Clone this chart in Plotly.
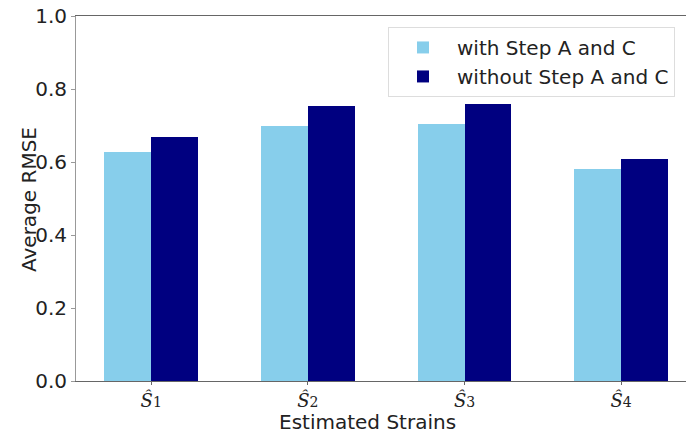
import plotly.graph_objects as go

sub = "<span style='font-size:14px'>{}</span>"
categories = ["<i>Ŝ</i>" + sub.format(i) for i in (1, 2, 3, 4)]
with_ac = [0.627, 0.699, 0.704, 0.581]
without_ac = [0.668, 0.753, 0.759, 0.608]
positions = [0, 1, 2, 3]

fig = go.Figure()
fig.add_trace(go.Bar(x=[p - 0.15 for p in positions], y=with_ac, width=0.3,
                     name="with Step A and C", marker=dict(color="#87CEEB", line=dict(width=0))))
fig.add_trace(go.Bar(x=[p + 0.15 for p in positions], y=without_ac, width=0.3,
                     name="without Step A and C", marker=dict(color="#000080", line=dict(width=0))))

font = dict(family="DejaVu Sans", size=20, color="#222")
fig.update_layout(
    width=686, height=433,
    margin=dict(l=76, r=0, t=16, b=52),
    plot_bgcolor="white", paper_bgcolor="white",
    font=font,
    bargap=0,
    showlegend=True,
    legend=dict(x=(388 - 76) / 610, y=0.97, xanchor="left", yanchor="top",
                bordercolor="#dddddd", borderwidth=1, bgcolor="white",
                font=dict(family="DejaVu Sans", size=20, color="#222"),
                itemwidth=58, tracegroupgap=2),
    xaxis=dict(range=[-0.48, 3.414], tickvals=positions, ticktext=categories,
               automargin=False,
               showline=True, linecolor="#666", linewidth=1, mirror=True,
               ticks="outside", ticklen=3, tickcolor="#666", showgrid=False, zeroline=False,
               tickfont=dict(family="DejaVu Serif", size=18, color="#222")),
    yaxis=dict(range=[0, 1.0], tickvals=[0, 0.2, 0.4, 0.6, 0.8, 1.0],
               ticktext=["0.0", "0.2", "0.4", "0.6", "0.8", "1.0"],
               automargin=False,
               showline=True, linecolor="#999", linewidth=1,
               ticks="outside", ticklen=4, tickcolor="#999", showgrid=False, zeroline=False),
    annotations=[
        dict(text="Estimated Strains", xref="paper", yref="paper", x=(367 - 76) / 610, y=(381 - 422) / 365,
             xanchor="center", yanchor="middle", showarrow=False, font=font),
        dict(text="Average RMSE", xref="paper", yref="paper", x=(29 - 76) / 610, y=(381 - 200) / 365,
             xanchor="center", yanchor="middle", showarrow=False, textangle=-90, font=font),
    ],
)

fig.write_html("out.html", config={"displayModeBar": False},
               post_script="document.body.style.margin='0';document.body.style.overflow='hidden';")
